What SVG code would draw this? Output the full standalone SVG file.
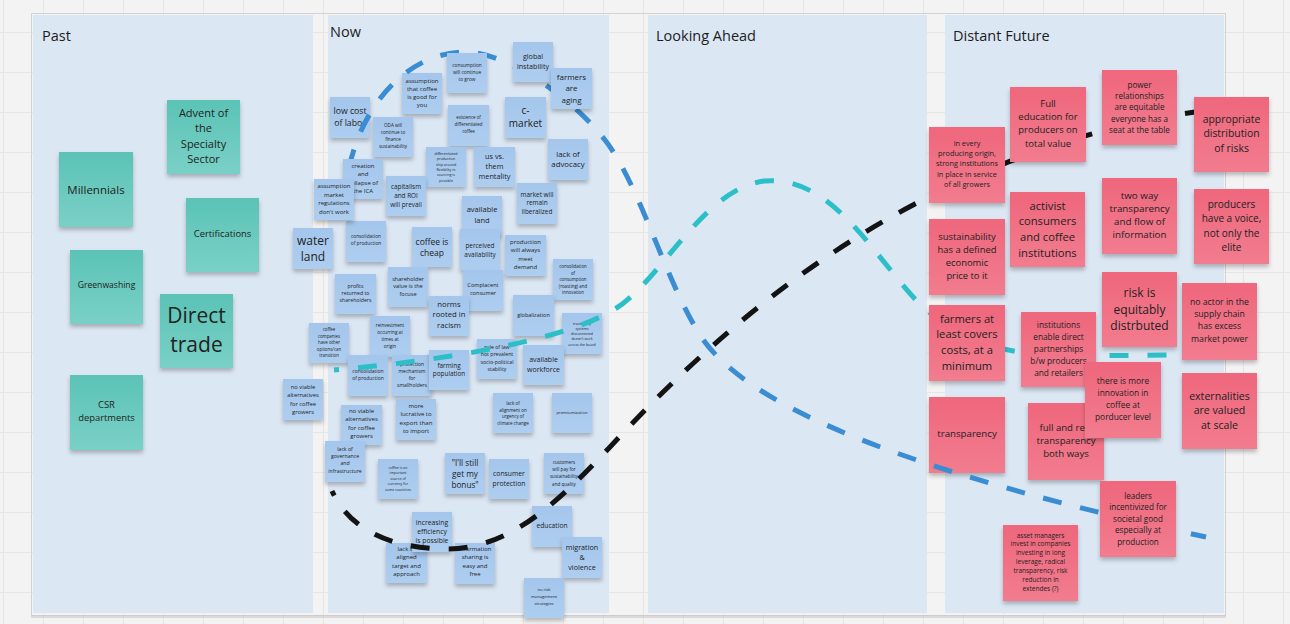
<svg xmlns="http://www.w3.org/2000/svg" width="1290" height="624" viewBox="0 0 1290 624">
<style>
.hdr{font-family:"Open Sans","Liberation Sans",sans-serif;font-size:14.5px;fill:#1c1c1c;dominant-baseline:central}
.col{fill:#dce7f4}
.n rect{filter:url(#sh)}
.teal rect{fill:url(#gT)}
.blue rect{fill:url(#gB)}
.pink rect{fill:url(#gP)}
.n text,.n tspan{font-family:"Open Sans","Liberation Sans",sans-serif;fill:#222;text-anchor:middle;dominant-baseline:central}
.c{fill:none;stroke-width:5;stroke-dasharray:19 19}
.k{stroke:#131313;stroke-dashoffset:14}
.t{stroke:#2dbfc8;stroke-dashoffset:14}
.b{stroke:#3a8dd2}
</style>
<defs>
<pattern id="grid" width="40" height="40" patternUnits="userSpaceOnUse" x="3" y="32"><path d="M0 0.5H40M0.5 0V40" stroke="#e5e5e5" stroke-width="1" fill="none"/></pattern>
<linearGradient id="gT" x1="0" y1="0" x2="0" y2="1"><stop offset="0" stop-color="#5bc3b6"/><stop offset="1" stop-color="#7ad0c6"/></linearGradient>
<linearGradient id="gB" x1="0" y1="0" x2="0" y2="1"><stop offset="0" stop-color="#a4c6ec"/><stop offset="1" stop-color="#aecef0"/></linearGradient>
<linearGradient id="gP" x1="0" y1="0" x2="0" y2="1"><stop offset="0" stop-color="#ef677c"/><stop offset="1" stop-color="#f27c8f"/></linearGradient>
<filter id="sh" x="-20%" y="-20%" width="140%" height="150%"><feDropShadow dx="0" dy="3" stdDeviation="2" flood-color="#000" flood-opacity="0.25"/></filter>
</defs>
<rect width="1290" height="624" fill="#f3f3f3"/>
<rect width="1290" height="624" fill="url(#grid)"/>
<rect x="31.5" y="13.5" width="1194" height="602" fill="none" stroke="#d2d2d2"/>
<rect x="31" y="615" width="1195" height="3" fill="#c9c9c9" opacity="0.6"/>
<g id="columns">
<rect class="col" x="33" y="15" width="280" height="598"/>
<rect class="col" x="328" y="15" width="281" height="598"/>
<rect class="col" x="648" y="15" width="279" height="598"/>
<rect class="col" x="945" y="15" width="279" height="598"/>
<text class="hdr" x="42" y="35">Past</text>
<text class="hdr" x="330" y="31">Now</text>
<text class="hdr" x="656" y="35">Looking Ahead</text>
<text class="hdr" x="953" y="35">Distant Future</text>
</g>
<g id="past-millennials" class="n teal"><rect x="59" y="152" width="74" height="75"/><text x="96" y="189.5" font-size="11.5">Millennials</text></g>
<g id="past-advent" class="n teal"><rect x="167" y="100" width="73" height="74"/><text x="203.5" y="112" font-size="11"><tspan x="203.5">Advent of</tspan><tspan x="203.5" dy="15.3">the</tspan><tspan x="203.5" dy="15.3">Specialty</tspan><tspan x="203.5" dy="15.3">Sector</tspan></text></g>
<g id="past-certifications" class="n teal"><rect x="186" y="198" width="73" height="74"/><text x="222.5" y="233" font-size="9.4">Certifications</text></g>
<g id="past-greenwashing" class="n teal"><rect x="70" y="250" width="73" height="74"/><text x="106.5" y="285" font-size="8.6">Greenwashing</text></g>
<g id="past-direct-trade" class="n teal"><rect x="160" y="294" width="73" height="74"/><text x="196.5" y="315" font-size="21"><tspan x="196.5">Direct</tspan><tspan x="196.5" dy="28.5">trade</tspan></text></g>
<g id="past-csr" class="n teal"><rect x="70" y="375" width="73" height="75"/><text x="106.5" y="404" font-size="9.4"><tspan x="106.5">CSR</tspan><tspan x="106.5" dy="13">departments</tspan></text></g>

<g id="now-low-cost" class="n blue"><rect x="330" y="97" width="40" height="41"/><text x="350" y="111" font-size="8.7"><tspan x="350">low cost</tspan><tspan x="350" dy="12">of labor</tspan></text></g>
<g id="now-assumption-coffee" class="n blue"><rect x="402" y="73" width="40" height="41"/><text x="422" y="80.5" font-size="6"><tspan x="422">assumption</tspan><tspan x="422" dy="8.3">that coffee</tspan><tspan x="422" dy="8.3">is good for</tspan><tspan x="422" dy="8.3">you</tspan></text></g>
<g id="now-c-market" class="n blue"><rect x="505" y="97" width="41" height="41"/><text x="525.5" y="110" font-size="10"><tspan x="525.5">c-</tspan><tspan x="525.5" dy="13.3">market</tspan></text></g>
<g id="now-existence" class="n blue"><rect x="448" y="105" width="41" height="41"/><text x="468.5" y="117" font-size="4.4"><tspan x="468.5">existence of</tspan><tspan x="468.5" dy="7">differentiated</tspan><tspan x="468.5" dy="7">coffee</tspan></text></g>
<g id="now-differentiated" class="n blue"><rect x="426" y="147" width="40" height="40"/><text x="446" y="153" font-size="3.6"><tspan x="446">differentiated</tspan><tspan x="446" dy="5.3">production</tspan><tspan x="446" dy="5.3">ship around</tspan><tspan x="446" dy="5.3">flexibility in</tspan><tspan x="446" dy="5.3">sourcing is</tspan><tspan x="446" dy="5.3">possible</tspan></text></g>
<g id="now-us-vs-them" class="n blue"><rect x="474" y="147" width="41" height="40"/><text x="494.5" y="156" font-size="7.3"><tspan x="494.5">us vs.</tspan><tspan x="494.5" dy="9.9">them</tspan><tspan x="494.5" dy="9.9">mentality</tspan></text></g>
<g id="now-lack-advocacy" class="n blue"><rect x="548" y="139" width="40" height="41"/><text x="568" y="153.5" font-size="7.8"><tspan x="568">lack of</tspan><tspan x="568" dy="10.7">advocacy</tspan></text></g>
<g id="now-market-liberalized" class="n blue"><rect x="517" y="183" width="40" height="41"/><text x="537" y="194" font-size="6.4"><tspan x="537">market will</tspan><tspan x="537" dy="8.3">remain</tspan><tspan x="537" dy="8.3">liberalized</tspan></text></g>
<g id="now-available-land" class="n blue"><rect x="462" y="196" width="40" height="40"/><text x="482" y="209.3" font-size="7.5"><tspan x="482">available</tspan><tspan x="482" dy="10.7">land</tspan></text></g>
<g id="now-oda" class="n blue"><rect x="373" y="117" width="40" height="40"/><text x="393" y="125" font-size="4.6"><tspan x="393">ODA will</tspan><tspan x="393" dy="7">continue to</tspan><tspan x="393" dy="7">finance</tspan><tspan x="393" dy="7">sustainability</tspan></text></g>
<g id="now-capitalism" class="n blue"><rect x="386" y="176" width="40" height="40"/><text x="406" y="186" font-size="6.4"><tspan x="406">capitalism</tspan><tspan x="406" dy="8.8">and ROI</tspan><tspan x="406" dy="8.8">will prevail</tspan></text></g>
<g id="now-water-land" class="n blue"><rect x="293" y="228" width="40" height="41"/><text x="313" y="240" font-size="12"><tspan x="313">water</tspan><tspan x="313" dy="16">land</tspan></text></g>
<g id="now-consolidation-production-1" class="n blue"><rect x="346" y="221" width="40" height="41"/><text x="366" y="236" font-size="4.8"><tspan x="366">consolidation</tspan><tspan x="366" dy="7.3">of production</tspan></text></g>
<g id="now-coffee-cheap" class="n blue"><rect x="412" y="227" width="40" height="40"/><text x="432" y="240.5" font-size="8.5"><tspan x="432">coffee is</tspan><tspan x="432" dy="11.7">cheap</tspan></text></g>
<g id="now-profits" class="n blue"><rect x="335" y="274" width="41" height="40"/><text x="355.5" y="285.7" font-size="5.2"><tspan x="355.5">profits</tspan><tspan x="355.5" dy="7.2">returned to</tspan><tspan x="355.5" dy="7.2">shareholders</tspan></text></g>
<g id="now-shareholder" class="n blue"><rect x="388" y="267" width="40" height="40"/><text x="408" y="278.5" font-size="5.6"><tspan x="408">shareholder</tspan><tspan x="408" dy="7.5">value is the</tspan><tspan x="408" dy="7.5">focuse</tspan></text></g>
<g id="now-perceived" class="n blue"><rect x="460" y="229" width="40" height="41"/><text x="480" y="244.5" font-size="6.4"><tspan x="480">perceived</tspan><tspan x="480" dy="9">availability</tspan></text></g>
<g id="now-production-demand" class="n blue"><rect x="505" y="235" width="41" height="41"/><text x="525.5" y="242" font-size="6"><tspan x="525.5">production</tspan><tspan x="525.5" dy="8.3">will always</tspan><tspan x="525.5" dy="8.3">meet</tspan><tspan x="525.5" dy="8.3">demand</tspan></text></g>
<g id="now-consolidation-consumption" class="n blue"><rect x="553" y="259" width="40" height="41"/><text x="573" y="266" font-size="4.4"><tspan x="573">consolidation</tspan><tspan x="573" dy="6.5">of</tspan><tspan x="573" dy="6.5">consumption</tspan><tspan x="573" dy="6.5">(roasting) and</tspan><tspan x="573" dy="6.5">innovation</tspan></text></g>
<g id="now-complacent" class="n blue"><rect x="463" y="270" width="40" height="41"/><text x="483" y="285" font-size="5.6"><tspan x="483">Complacent</tspan><tspan x="483" dy="7.7">consumer</tspan></text></g>
<g id="now-norms" class="n blue"><rect x="429" y="296" width="40" height="40"/><text x="449" y="303.5" font-size="7.7"><tspan x="449">norms</tspan><tspan x="449" dy="10.9">rooted in</tspan><tspan x="449" dy="10.9">racism</tspan></text></g>
<g id="now-globalization" class="n blue"><rect x="513" y="295" width="41" height="41"/><text x="533.5" y="314.7" font-size="5.5">globalization</text></g>
<g id="now-traceability" class="n blue"><rect x="562" y="313" width="40" height="41"/><text x="582" y="322.5" font-size="3.5"><tspan x="582">traceability</tspan><tspan x="582" dy="5.3">systems</tspan><tspan x="582" dy="5.3">disconnected</tspan><tspan x="582" dy="5.3">doesn't work</tspan><tspan x="582" dy="5.3">across the board</tspan></text></g>
<g id="now-coffee-companies" class="n blue"><rect x="309" y="323" width="40" height="40"/><text x="329" y="329.3" font-size="4.4"><tspan x="329">coffee</tspan><tspan x="329" dy="6.5">companies</tspan><tspan x="329" dy="6.5">have other</tspan><tspan x="329" dy="6.5">options/can</tspan><tspan x="329" dy="6.5">transition</tspan></text></g>
<g id="now-reinvestment" class="n blue"><rect x="370" y="316" width="40" height="41"/><text x="390" y="324.5" font-size="4.6"><tspan x="390">reinvestment</tspan><tspan x="390" dy="7.2">occurring at</tspan><tspan x="390" dy="7.2">times at</tspan><tspan x="390" dy="7.2">origin</tspan></text></g>
<g id="now-consolidation-production-2" class="n blue"><rect x="348" y="355" width="40" height="41"/><text x="368" y="370.7" font-size="5"><tspan x="368">consolidation</tspan><tspan x="368" dy="7.3">of production</tspan></text></g>
<g id="now-protection" class="n blue"><rect x="392" y="355" width="40" height="41"/><text x="412" y="364" font-size="5"><tspan x="412">protection</tspan><tspan x="412" dy="7">mechanism</tspan><tspan x="412" dy="7">for</tspan><tspan x="412" dy="7">smallholders</tspan></text></g>
<g id="now-farming" class="n blue"><rect x="429" y="350" width="40" height="40"/><text x="449" y="365" font-size="6.4"><tspan x="449">farming</tspan><tspan x="449" dy="8.3">population</tspan></text></g>
<g id="now-rule-of-law" class="n blue"><rect x="477" y="339" width="40" height="40"/><text x="497" y="347" font-size="5.2"><tspan x="497">rule of law</tspan><tspan x="497" dy="7.3">not prevalent</tspan><tspan x="497" dy="7.3">socio-political</tspan><tspan x="497" dy="7.3">stability</tspan></text></g>
<g id="now-workforce" class="n blue"><rect x="523" y="345" width="41" height="40"/><text x="543.5" y="358.5" font-size="7"><tspan x="543.5">available</tspan><tspan x="543.5" dy="10">workforce</tspan></text></g>
<g id="now-no-viable-1" class="n blue"><rect x="283" y="379" width="40" height="41"/><text x="303" y="386.5" font-size="5.8"><tspan x="303">no viable</tspan><tspan x="303" dy="8.5">alternatives</tspan><tspan x="303" dy="8.5">for coffee</tspan><tspan x="303" dy="8.5">growers</tspan></text></g>
<g id="now-no-viable-2" class="n blue"><rect x="341" y="405" width="41" height="40"/><text x="361.5" y="411" font-size="6"><tspan x="361.5">no viable</tspan><tspan x="361.5" dy="8.4">alternatives</tspan><tspan x="361.5" dy="8.4">for coffee</tspan><tspan x="361.5" dy="8.4">growers</tspan></text></g>
<g id="now-lucrative" class="n blue"><rect x="396" y="399" width="40" height="41"/><text x="416" y="406" font-size="6"><tspan x="416">more</tspan><tspan x="416" dy="8.4">lucrative to</tspan><tspan x="416" dy="8.4">export than</tspan><tspan x="416" dy="8.4">to import</tspan></text></g>
<g id="now-governance" class="n blue"><rect x="325" y="441" width="40" height="41"/><text x="345" y="449" font-size="5.2"><tspan x="345">lack of</tspan><tspan x="345" dy="7.2">governance</tspan><tspan x="345" dy="7.2">and</tspan><tspan x="345" dy="7.2">infrastructure</tspan></text></g>
<g id="now-currency" class="n blue"><rect x="378" y="459" width="40" height="40"/><text x="398" y="466.5" font-size="3.6"><tspan x="398">coffee is an</tspan><tspan x="398" dy="5.6">important</tspan><tspan x="398" dy="5.6">source of</tspan><tspan x="398" dy="5.6">currency for</tspan><tspan x="398" dy="5.6">some countries</tspan></text></g>
<g id="now-climate" class="n blue"><rect x="493" y="393" width="40" height="40"/><text x="513" y="403" font-size="4.5"><tspan x="513">lack of</tspan><tspan x="513" dy="6.7">alignment on</tspan><tspan x="513" dy="6.7">urgency of</tspan><tspan x="513" dy="6.7">climate change</tspan></text></g>
<g id="now-premiumization" class="n blue"><rect x="552" y="393" width="40" height="40"/><text x="572" y="412.7" font-size="4.2">premiumization</text></g>
<g id="now-bonus" class="n blue"><rect x="445" y="453" width="40" height="41"/><text x="465" y="462" font-size="8.2"><tspan x="465">"I'll still</tspan><tspan x="465" dy="10.8">get my</tspan><tspan x="465" dy="10.8">bonus"</tspan></text></g>
<g id="now-consumer-protection" class="n blue"><rect x="489" y="459" width="40" height="40"/><text x="509" y="472.7" font-size="6.8"><tspan x="509">consumer</tspan><tspan x="509" dy="10">protection</tspan></text></g>
<g id="now-customers" class="n blue"><rect x="544" y="453" width="40" height="41"/><text x="564" y="462" font-size="4.6"><tspan x="564">customers</tspan><tspan x="564" dy="7.2">will pay for</tspan><tspan x="564" dy="7.2">sustainability</tspan><tspan x="564" dy="7.2">and quality</tspan></text></g>
<g id="now-lack-aligned" class="n blue"><rect x="386" y="543" width="41" height="40"/><text x="406.5" y="549" font-size="6"><tspan x="406.5">lack of</tspan><tspan x="406.5" dy="8.4">aligned</tspan><tspan x="406.5" dy="8.4">target and</tspan><tspan x="406.5" dy="8.4">approach</tspan></text></g>
<g id="now-efficiency" class="n blue"><rect x="412" y="512" width="40" height="40"/><text x="432" y="522" font-size="6.8"><tspan x="432">increasing</tspan><tspan x="432" dy="9.2">efficiency</tspan><tspan x="432" dy="9.2">is possible</tspan></text></g>
<g id="now-information" class="n blue"><rect x="455" y="543" width="40" height="41"/><text x="475" y="549" font-size="6"><tspan x="475">information</tspan><tspan x="475" dy="8.4">sharing is</tspan><tspan x="475" dy="8.4">easy and</tspan><tspan x="475" dy="8.4">free</tspan></text></g>
<g id="now-education" class="n blue"><rect x="532" y="506" width="40" height="41"/><text x="552" y="525" font-size="6.7">education</text></g>
<g id="now-migration" class="n blue"><rect x="562" y="537" width="40" height="41"/><text x="582" y="547" font-size="7.2"><tspan x="582">migration</tspan><tspan x="582" dy="10">&amp;</tspan><tspan x="582" dy="10">violence</tspan></text></g>
<g id="now-no-risk" class="n blue"><rect x="524" y="578" width="40" height="40"/><text x="544" y="589" font-size="4.2"><tspan x="544">no risk</tspan><tspan x="544" dy="7.1">management</tspan><tspan x="544" dy="7.1">strategies</tspan></text></g>
<g id="df-transparency" class="n pink"><rect x="929" y="397" width="76" height="76"/><text x="967" y="433.5" font-size="9.7">transparency</text></g>

<g id="connectors">
<path class="c k" d="M332,491 C350,530 390,548 445,549 C510,550 560,500 610,447 C690,360 790,270 913,205 C1000,160 1100,125 1195,112"/>
<path class="c t" d="M334,370 C450,360 560,340 610,312 C660,285 700,190 764,181 C830,175 870,250 915,299 C950,335 1000,355 1060,356 L1170,355"/>
<path class="c b" d="M349,168 C365,95 415,52 465,52 C505,52 570,95 605,140 C640,185 665,280 700,335 C735,390 850,460 1206,537"/>
</g>

<g id="now-consumption" class="n blue"><rect x="447" y="53" width="40" height="40"/><text x="467" y="64.5" font-size="4.8"><tspan x="467">consumption</tspan><tspan x="467" dy="7.2">will continue</tspan><tspan x="467" dy="7.2">to grow</tspan></text></g>
<g id="now-global-instability" class="n blue"><rect x="513" y="42" width="40" height="40"/><text x="533" y="56" font-size="7.2"><tspan x="533">global</tspan><tspan x="533" dy="10.3">instability</tspan></text></g>
<g id="now-farmers-aging" class="n blue"><rect x="551" y="68" width="41" height="41"/><text x="571.5" y="76" font-size="8"><tspan x="571.5">farmers</tspan><tspan x="571.5" dy="11.3">are</tspan><tspan x="571.5" dy="11.3">aging</tspan></text></g>
<g id="now-ica" class="n blue"><rect x="343" y="159" width="40" height="40"/><text x="363" y="166" font-size="6"><tspan x="363">creation</tspan><tspan x="363" dy="8.3">and</tspan><tspan x="363" dy="8.3">collapse of</tspan><tspan x="363" dy="8.3">the ICA</tspan></text></g>
<g id="now-assumption-market" class="n blue"><rect x="314" y="179" width="40" height="41"/><text x="334" y="186" font-size="6"><tspan x="334">assumption</tspan><tspan x="334" dy="8.5">market</tspan><tspan x="334" dy="8.5">regulations</tspan><tspan x="334" dy="8.5">don't work</tspan></text></g>

<g id="df-full-education" class="n pink"><rect x="1010" y="87" width="76" height="75"/><text x="1048" y="103" font-size="9.5"><tspan x="1048">Full</tspan><tspan x="1048" dy="13.2">education for</tspan><tspan x="1048" dy="13.2">producers on</tspan><tspan x="1048" dy="13.2">total value</tspan></text></g>
<g id="df-institutions-origin" class="n pink"><rect x="929" y="127" width="76" height="76"/><text x="967" y="143" font-size="7.3"><tspan x="967">in every</tspan><tspan x="967" dy="10.2">producing origin,</tspan><tspan x="967" dy="10.2">strong institutions</tspan><tspan x="967" dy="10.2">in place in service</tspan><tspan x="967" dy="10.2">of all growers</tspan></text></g>
<g id="df-activist" class="n pink"><rect x="1010" y="192" width="75" height="75"/><text x="1047.5" y="204.5" font-size="11.2"><tspan x="1047.5">activist</tspan><tspan x="1047.5" dy="15.7">consumers</tspan><tspan x="1047.5" dy="15.7">and coffee</tspan><tspan x="1047.5" dy="15.7">institutions</tspan></text></g>
<g id="df-sustainability" class="n pink"><rect x="929" y="219" width="76" height="76"/><text x="967" y="235.5" font-size="9.4"><tspan x="967">sustainability</tspan><tspan x="967" dy="13.2">has a defined</tspan><tspan x="967" dy="13.2">economic</tspan><tspan x="967" dy="13.2">price to it</tspan></text></g>
<g id="df-farmers-costs" class="n pink"><rect x="929" y="305" width="76" height="76"/><text x="967" y="317.5" font-size="11.2"><tspan x="967">farmers at</tspan><tspan x="967" dy="15.7">least covers</tspan><tspan x="967" dy="15.7">costs, at a</tspan><tspan x="967" dy="15.7">minimum</tspan></text></g>
<g id="df-institutions-partnerships" class="n pink"><rect x="1021" y="312" width="75" height="75"/><text x="1058.5" y="323.5" font-size="8.3"><tspan x="1058.5">institutions</tspan><tspan x="1058.5" dy="12.1">enable direct</tspan><tspan x="1058.5" dy="12.1">partnerships</tspan><tspan x="1058.5" dy="12.1">b/w producers</tspan><tspan x="1058.5" dy="12.1">and retailers</tspan></text></g>
<g id="df-power" class="n pink"><rect x="1102" y="70" width="75" height="75"/><text x="1139.5" y="84" font-size="8.1"><tspan x="1139.5">power</tspan><tspan x="1139.5" dy="11.2">relationships</tspan><tspan x="1139.5" dy="11.2">are equitable</tspan><tspan x="1139.5" dy="11.2">everyone has a</tspan><tspan x="1139.5" dy="11.2">seat at the table</tspan></text></g>
<g id="df-risks-distribution" class="n pink"><rect x="1194" y="97" width="75" height="75"/><text x="1231.5" y="118.5" font-size="10.4"><tspan x="1231.5">appropriate</tspan><tspan x="1231.5" dy="14.5">distribution</tspan><tspan x="1231.5" dy="14.5">of risks</tspan></text></g>
<g id="df-two-way" class="n pink"><rect x="1102" y="178" width="75" height="76"/><text x="1139.5" y="195" font-size="9.8"><tspan x="1139.5">two way</tspan><tspan x="1139.5" dy="13.1">transparency</tspan><tspan x="1139.5" dy="13.1">and flow of</tspan><tspan x="1139.5" dy="13.1">information</tspan></text></g>
<g id="df-producers-voice" class="n pink"><rect x="1194" y="189" width="75" height="75"/><text x="1231.5" y="203.5" font-size="10"><tspan x="1231.5">producers</tspan><tspan x="1231.5" dy="14.5">have a voice,</tspan><tspan x="1231.5" dy="14.5">not only the</tspan><tspan x="1231.5" dy="14.5">elite</tspan></text></g>
<g id="df-risk-equitable" class="n pink"><rect x="1102" y="272" width="75" height="75"/><text x="1139.5" y="292" font-size="12"><tspan x="1139.5">risk is</tspan><tspan x="1139.5" dy="16.6">equitably</tspan><tspan x="1139.5" dy="16.6">distrbuted</tspan></text></g>
<g id="df-no-actor" class="n pink"><rect x="1182" y="283" width="75" height="77"/><text x="1219.5" y="302" font-size="8.7"><tspan x="1219.5">no actor in the</tspan><tspan x="1219.5" dy="12.2">supply chain</tspan><tspan x="1219.5" dy="12.2">has excess</tspan><tspan x="1219.5" dy="12.2">market power</tspan></text></g>
<g id="df-full-real" class="n pink"><rect x="1028" y="403" width="76" height="77"/><text x="1066" y="426.5" font-size="9.6"><tspan x="1066">full and real</tspan><tspan x="1066" dy="13.2">transparency</tspan><tspan x="1066" dy="13.2">both ways</tspan></text></g>
<g id="df-innovation" class="n pink"><rect x="1085" y="362" width="76" height="76"/><text x="1123" y="379.5" font-size="8.4"><tspan x="1123">there is more</tspan><tspan x="1123" dy="12.3">innovation in</tspan><tspan x="1123" dy="12.3">coffee at</tspan><tspan x="1123" dy="12.3">porducer level</tspan></text></g>
<g id="df-externalities" class="n pink"><rect x="1182" y="373" width="75" height="76"/><text x="1219.5" y="395.5" font-size="10.6"><tspan x="1219.5">externalities</tspan><tspan x="1219.5" dy="14.5">are valued</tspan><tspan x="1219.5" dy="14.5">at scale</tspan></text></g>
<g id="df-leaders" class="n pink"><rect x="1100" y="481" width="76" height="76"/><text x="1138" y="494.5" font-size="8.1"><tspan x="1138">leaders</tspan><tspan x="1138" dy="11.5">incentivized for</tspan><tspan x="1138" dy="11.5">societal good</tspan><tspan x="1138" dy="11.5">especially at</tspan><tspan x="1138" dy="11.5">production</tspan></text></g>
<g id="df-asset-managers" class="n pink"><rect x="1003" y="525" width="75" height="76"/><text x="1040.5" y="534.5" font-size="6.5"><tspan x="1040.5">asset managers</tspan><tspan x="1040.5" dy="8.9">invest in companies</tspan><tspan x="1040.5" dy="8.9">investing in long</tspan><tspan x="1040.5" dy="8.9">leverage, radical</tspan><tspan x="1040.5" dy="8.9">transparency, risk</tspan><tspan x="1040.5" dy="8.9">reduction in</tspan><tspan x="1040.5" dy="8.9">extendes (?)</tspan></text></g>
</svg>
